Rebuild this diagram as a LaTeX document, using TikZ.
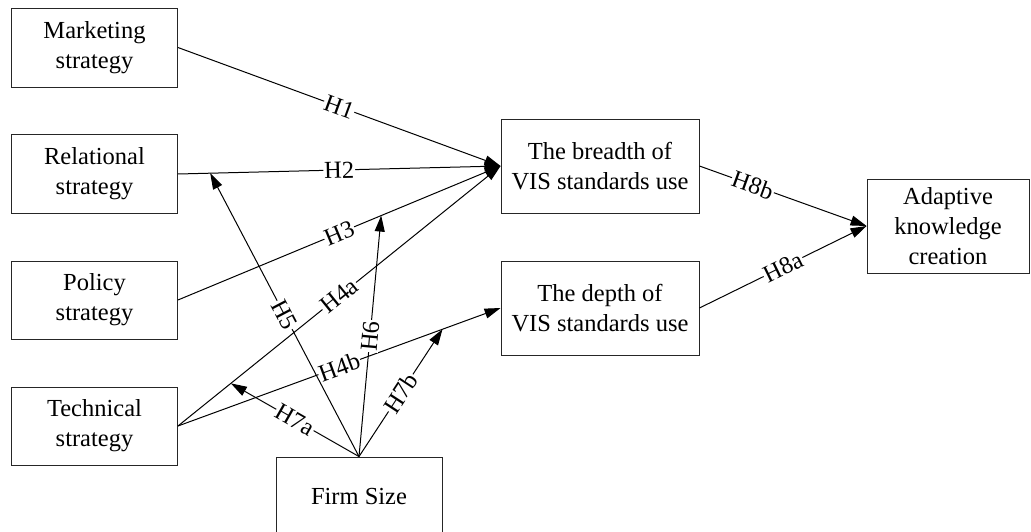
\documentclass[tikz,border=0pt]{standalone}
\usepackage{fontspec}
\setmainfont{Liberation Serif}
\usetikzlibrary{arrows.meta,calc}
\begin{document}
\begin{tikzpicture}[x=1pt,y=-1pt,
  box/.style={draw=black!85,line width=0.9pt,rectangle,align=center,
    font=\fontsize{24.5}{30}\selectfont,inner sep=0pt},
  conn/.style={line width=1pt,-{Triangle[length=16pt,width=10pt]}},
  lbl/.style={fill=white,inner sep=1pt,sloped,font=\fontsize{24.5}{26}\selectfont}
]
\useasboundingbox (0,0) rectangle (1031,532);
\node[box,minimum width=166pt,minimum height=79pt] (mkt) at (94.5,47.5) {Marketing\\strategy};
\node[box,minimum width=166pt,minimum height=79pt] (rel) at (94.5,174) {Relational\\strategy};
\node[box,minimum width=166pt,minimum height=78pt] (pol) at (94.5,300) {Policy\\strategy};
\node[box,minimum width=166pt,minimum height=78pt] (tec) at (94.5,426) {Technical\\strategy};
\node[box,minimum width=198pt,minimum height=94pt] (br) at (600,166) {The breadth of\\VIS standards use};
\node[box,minimum width=198pt,minimum height=94pt] (dp) at (600,308) {The depth of\\VIS standards use};
\node[box,minimum width=162pt,minimum height=94pt] (ak) at (948,226) {Adaptive\\knowledge\\creation};
\node[box,minimum width=166pt,minimum height=80pt] (fs) at (359,497) {Firm Size};

\draw[conn] (mkt.east) -- node[lbl] {H1} (br.west);
\draw[conn] (rel.east) -- node[lbl] {H2} (br.west);
\draw[conn] (pol.east) -- node[lbl] {H3} (br.west);
\draw[conn] (tec.east) -- node[lbl] {H4a} (br.west);
\draw[conn] (tec.east) -- node[lbl] {H4b} (dp.west);
\draw[conn] (br.east) -- node[lbl,pos=0.32] {H8b} (ak.west);
\draw[conn] (dp.east) -- node[lbl] {H8a} (ak.west);

\coordinate (t5) at ($(rel.east)!0.1!(br.west)$);
\coordinate (t6) at ($(pol.east)!0.63!(br.west)$);
\coordinate (t7a) at ($(tec.east)!0.164!(br.west)$);
\coordinate (t7b) at ($(tec.east)!0.82!(dp.west)$);

\draw[conn] (fs.north) -- node[lbl] {H5} (t5);
\draw[conn] (fs.north) -- node[lbl] {H6} (t6);
\draw[conn] (fs.north) -- node[lbl] {H7a} (t7a);
\draw[conn] (fs.north) -- node[lbl] {H7b} (t7b);
\end{tikzpicture}
\end{document}
